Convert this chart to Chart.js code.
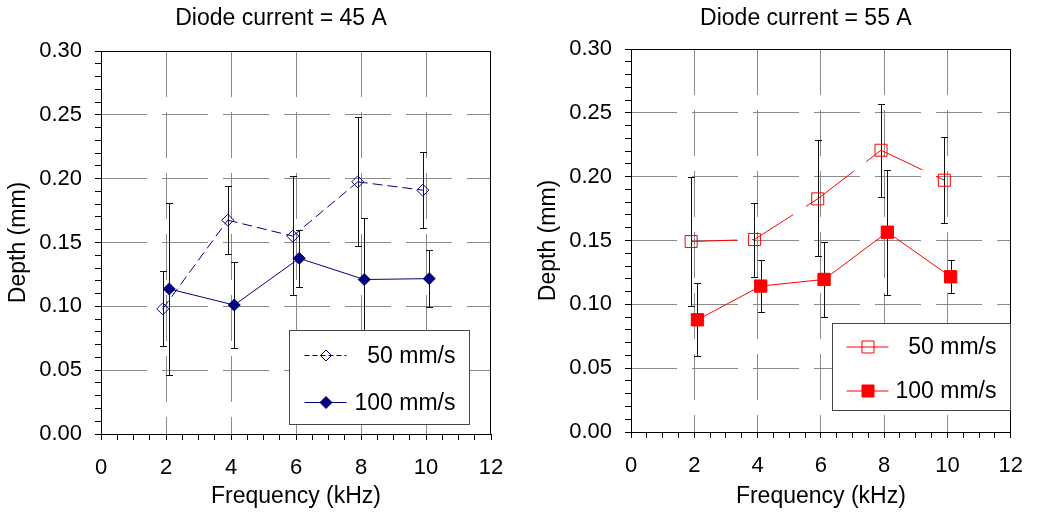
<!DOCTYPE html>
<html>
<head>
<meta charset="utf-8">
<script src="https://cdn.jsdelivr.net/npm/chart.js@4.4.1/dist/chart.umd.min.js"></script>
<style>
html,body{margin:0;padding:0;background:#fff;}
#wrap{position:relative;width:1038px;height:516px;overflow:hidden;}
.c{position:absolute;top:0;width:519px;height:516px;}
</style>
</head>
<body>
<div id="wrap">
  <div class="c" style="left:0"><canvas id="c1" width="519" height="516"></canvas></div>
  <div class="c" style="left:519px"><canvas id="c2" width="519" height="516"></canvas></div>
</div>
<script>
// ---------- data ----------
const xTickLabels = ['0','2','4','6','8','10','12'];
const yTickLabels = ['0.00','0.05','0.10','0.15','0.20','0.25','0.30'];
const seriesNames = ['50 mm/s','100 mm/s'];
const chartTitles = ['Diode current = 45 A','Diode current = 55 A'];

const freq50  = [1.9, 3.9, 5.9, 7.9, 9.9];
const freq100 = [2.1, 4.1, 6.1, 8.1, 10.1];

// 45 A
const depth45_50     = [0.098, 0.1675, 0.155, 0.1975, 0.191];
const depth45_50_lo  = [0.069, 0.141, 0.1087, 0.147, 0.1616];
const depth45_50_hi  = [0.128, 0.194, 0.2017, 0.248, 0.221];
const depth45_100    = [0.1136, 0.101, 0.1376, 0.121, 0.1217];
const depth45_100_lo = [0.0464, 0.0675, 0.115, 0.073, 0.0996];
const depth45_100_hi = [0.181, 0.135, 0.160, 0.169, 0.1439];

// 55 A
const depth55_50     = [0.1492, 0.1508, 0.1826, 0.2207, 0.1972];
const depth55_50_lo  = [0.0984, 0.1218, 0.1375, 0.1837, 0.1636];
const depth55_50_hi  = [0.200, 0.1795, 0.2285, 0.257, 0.2309];
const depth55_100    = [0.0879, 0.1143, 0.1195, 0.1565, 0.1216];
const depth55_100_lo = [0.0592, 0.0939, 0.0897, 0.1075, 0.109];
const depth55_100_hi = [0.1166, 0.1349, 0.1492, 0.2053, 0.1344];

// ---------- styling ----------
const FONT = "'Liberation Sans', Arial, Helvetica, sans-serif";
const NAVY = '#000080';
const RED = '#ff0000';
const GRID = '#8a8a8a';
const TRANSP = 'rgba(0,0,0,0)';

function pts(xs, ys){ return xs.map((x,i)=>({x:x, y:ys[i]})); }

// error bars drawn from scales
const errorBars = {
  id:'errorBars',
  beforeDatasetsDraw(chart){
    const {ctx, scales:{x,y}} = chart;
    ctx.save();
    ctx.strokeStyle = '#111';
    ctx.lineWidth = 1;
    ctx.setLineDash([]);
    chart.data.datasets.forEach(ds=>{
      if(!ds.errLo) return;
      ds.data.forEach((p,i)=>{
        const px = Math.round(x.getPixelForValue(p.x)) + 0.5;
        const yl = Math.round(y.getPixelForValue(ds.errLo[i])) + 0.5;
        const yh = Math.round(y.getPixelForValue(ds.errHi[i])) + 0.5;
        ctx.beginPath();
        ctx.moveTo(px, yl); ctx.lineTo(px, yh);
        ctx.moveTo(px-3.5, yl); ctx.lineTo(px+3.5, yl);
        ctx.moveTo(px-3.5, yh); ctx.lineTo(px+3.5, yh);
        ctx.stroke();
      });
    });
    ctx.restore();
  }
};

// frame around plot area
const frame = {
  id:'frame',
  beforeDatasetsDraw(chart){
    const {ctx, chartArea:a} = chart;
    ctx.save();
    ctx.strokeStyle = '#000';
    ctx.lineWidth = 1;
    ctx.setLineDash([]);
    const l = Math.round(a.left)+0.5, t = Math.round(a.top)+0.5;
    const r = Math.round(a.right)-0.5, b = Math.round(a.bottom)+0.5;
    ctx.strokeRect(l, t, r-l, b-t);
    ctx.restore();
  }
};

function drawMarker(ctx, style, x, y, r, filled, color){
  ctx.beginPath();
  if(style === 'rectRot'){
    ctx.moveTo(x, y-r); ctx.lineTo(x+r, y); ctx.lineTo(x, y+r); ctx.lineTo(x-r, y); ctx.closePath();
  } else {
    const s = r*Math.SQRT1_2;
    ctx.rect(x-s, y-s, 2*s, 2*s);
  }
  if(filled){ ctx.fillStyle = color; ctx.fill(); }
  ctx.setLineDash([]);
  ctx.lineWidth = 1;
  ctx.strokeStyle = color;
  ctx.stroke();
}

// custom legend box (line + marker + text); config kept in a closure
function makeBoxLegend(L){
  return {
    id:'boxLegend',
    afterDraw(chart){
      const {ctx, chartArea:a} = chart;
      const bx = Math.round(a.left + L.x)+0.5, by = Math.round(a.top + L.y)+0.5;
      ctx.save();
      ctx.setLineDash([]);
      ctx.fillStyle = '#ffffff';
      ctx.fillRect(bx, by, L.w, L.h);
      ctx.strokeStyle = '#444444';
      ctx.lineWidth = 1;
      ctx.strokeRect(bx, by, L.w, L.h);
      L.rows.forEach((row, i)=>{
        const yy = Math.round(by + row.dy) + L.yshift;
        ctx.beginPath();
        ctx.setLineDash(row.dash.slice());
        ctx.strokeStyle = L.color;
        ctx.lineWidth = 1;
        ctx.moveTo(bx + row.x1, yy); ctx.lineTo(bx + row.x2, yy);
        ctx.stroke();
        drawMarker(ctx, L.marker, Math.round(bx + row.mx), yy, row.r, row.filled, L.color);
        ctx.fillStyle = '#000000';
        ctx.font = '23px ' + FONT;
        ctx.textAlign = 'right';
        ctx.textBaseline = 'middle';
        ctx.fillText(seriesNames[i], bx + row.tx, yy + 1);
      });
      ctx.restore();
    }
  };
}

// chart title text; config kept in a closure
function makeTopTitle(text){
  return {
    id:'topTitle',
    afterDraw(chart){
      const {ctx, chartArea:a} = chart;
      ctx.save();
      ctx.fillStyle = '#000';
      ctx.font = '23px ' + FONT;
      ctx.textAlign = 'center';
      ctx.textBaseline = 'alphabetic';
      ctx.fillText(text, (a.left + a.right)/2 - 15, 25);
      ctx.restore();
    }
  };
}

function xLabel(v){ const s = String(v); return xTickLabels.includes(s) ? s : ''; }
function yLabel(v){
  const k = Math.round(v*100);
  if(Math.abs(v*100 - k) > 1e-6) return '';
  const s = (k/100).toFixed(2);
  return yTickLabels.includes(s) ? s : '';
}
function isMajorX(v){ return v > 0.01 && v < 11.99 && Math.abs(v/2 - Math.round(v/2)) < 1e-6; }
function isMajorY(v){ const k = Math.round(v*100); return Math.abs(v*100-k) < 1e-6 && k % 5 === 0 && k > 0 && k < 30; }

function makeOptions(cfg){
  return {
    responsive:false,
    animation:false,
    devicePixelRatio:1,
    layout:{padding:cfg.padding},
    plugins:{
      legend:{display:false},
      tooltip:{enabled:false},
      title:{display:false}
    },
    scales:{
      x:{
        type:'linear', min:0, max:12,
        afterFit(s){ s.height = cfg.xh; },
        ticks:{stepSize:0.5, autoSkip:false, maxRotation:0, minRotation:0, padding:15, color:'#000',
               font:{size:22, family:FONT}, callback:xLabel},
        grid:{color:c=>isMajorX(c.tick.value)?GRID:TRANSP, tickColor:'#000', tickLength:6, lineWidth:1, tickWidth:1, tickBorderDash:[]},
        border:{display:false, dash:[46,15]},
        title:{display:true, text:'Frequency (kHz)', color:'#000', font:{size:23, family:FONT}, padding:{top:0, bottom:6}}
      },
      y:{
        type:'linear', min:0, max:0.30,
        afterFit(s){ s.width = 101; },
        ticks:{stepSize:0.01, autoSkip:false, padding:13, color:'#000',
               font:{size:22, family:FONT}, callback:yLabel},
        grid:{color:c=>isMajorY(c.tick.value)?GRID:TRANSP, tickColor:'#000', tickLength:6, lineWidth:1, tickWidth:1, tickBorderDash:[]},
        border:{display:false, dash:[46,15]},
        title:{display:true, text:'Depth (mm)', color:'#000', font:{size:23, family:FONT}, padding:{top:5, bottom:0}}
      }
    }
  };
}

const restartDash = {borderDashOffset: c => c.p0DataIndex * 0.001};

new Chart(document.getElementById('c1'), {
  type:'line',
  data:{datasets:[
    {label:seriesNames[0], data:pts(freq50, depth45_50), errLo:depth45_50_lo, errHi:depth45_50_hi,
     borderColor:NAVY, borderWidth:1, borderDash:[10,5], segment:restartDash,
     pointStyle:'rectRot', pointRadius:6, pointBackgroundColor:TRANSP, pointBorderColor:NAVY, pointBorderWidth:1, tension:0, fill:false},
    {label:seriesNames[1], data:pts(freq100, depth45_100), errLo:depth45_100_lo, errHi:depth45_100_hi,
     borderColor:NAVY, borderWidth:1,
     pointStyle:'rectRot', pointRadius:6, pointBackgroundColor:NAVY, pointBorderColor:NAVY, pointBorderWidth:1, tension:0, fill:false}
  ]},
  options:makeOptions({
    padding:{left:0, right:28, top:51, bottom:0},
    xh:82
  }),
  plugins:[frame, errorBars,
    makeBoxLegend({x:188, y:279, w:180, h:94, color:NAVY, marker:'rectRot', yshift:0.5, rows:[
      {dy:24, x1:15, x2:57, mx:36, tx:166, dash:[5,3], r:5.5, filled:false},
      {dy:71, x1:15, x2:57, mx:36, tx:166, dash:[], r:6, filled:true}
    ]}),
    makeTopTitle(chartTitles[0])]
});

new Chart(document.getElementById('c2'), {
  type:'line',
  data:{datasets:[
    {label:seriesNames[0], data:pts(freq50, depth55_50), errLo:depth55_50_lo, errHi:depth55_50_hi,
     borderColor:RED, borderWidth:1, borderDash:[46,15], segment:restartDash,
     pointStyle:'rect', pointRadius:8.5, pointBackgroundColor:TRANSP, pointBorderColor:RED, pointBorderWidth:1, tension:0, fill:false},
    {label:seriesNames[1], data:pts(freq100, depth55_100), errLo:depth55_100_lo, errHi:depth55_100_hi,
     borderColor:RED, borderWidth:1,
     pointStyle:'rect', pointRadius:8.7, pointBackgroundColor:RED, pointBorderColor:RED, pointBorderWidth:1, tension:0, fill:false}
  ]},
  options:makeOptions({
    padding:{left:11, right:17, top:49, bottom:0},
    xh:84
  }),
  plugins:[frame, errorBars,
    makeBoxLegend({x:201, y:274, w:178, h:87, color:RED, marker:'rect', yshift:0, rows:[
      {dy:23, x1:14, x2:56, mx:35, tx:164, dash:[], r:8.5, filled:false},
      {dy:67, x1:14, x2:56, mx:35, tx:164, dash:[], r:8.5, filled:true}
    ]}),
    makeTopTitle(chartTitles[1])]
});
</script>
</body>
</html>
